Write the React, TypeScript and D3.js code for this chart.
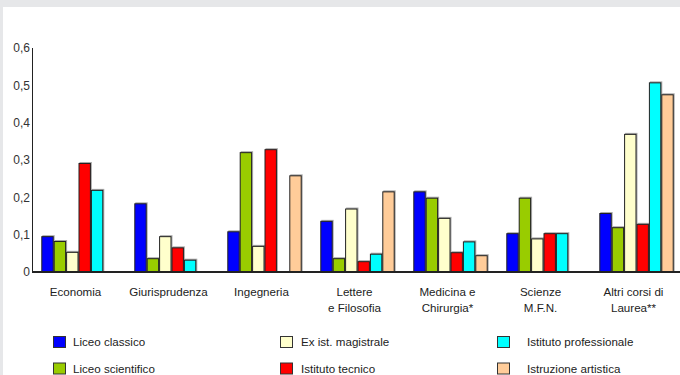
import React from "react";
import * as d3 from "d3";

const categories: string[][] = [
  ["Economia"],
  ["Giurisprudenza"],
  ["Ingegneria"],
  ["Lettere", "e Filosofia"],
  ["Medicina e", "Chirurgia*"],
  ["Scienze", "M.F.N."],
  ["Altri corsi di", "Laurea**"],
];
const seriesNames = [
  "Liceo classico",
  "Liceo scientifico",
  "Ex ist. magistrale",
  "Istituto tecnico",
  "Istituto professionale",
  "Istruzione artistica",
];
const seriesColors = ["#0000ff", "#99cc00", "#ffffcc", "#ff0000", "#00ffff", "#ffcc99"];
// values per series, per category
const liceoClassico = [0.096, 0.184, 0.109, 0.137, 0.216, 0.104, 0.158];
const liceoScientifico = [0.083, 0.037, 0.321, 0.037, 0.199, 0.199, 0.12];
const exMagistrale = [0.054, 0.096, 0.07, 0.17, 0.145, 0.09, 0.37];
const istTecnico = [0.292, 0.066, 0.329, 0.029, 0.053, 0.104, 0.129];
const istProfessionale = [0.22, 0.033, 0, 0.049, 0.082, 0.104, 0.508];
const istrArtistica = [0, 0, 0.259, 0.216, 0.045, 0, 0.476];
const seriesValues = [liceoClassico, liceoScientifico, exMagistrale, istTecnico, istProfessionale, istrArtistica];
const yTicks = [0, 0.1, 0.2, 0.3, 0.4, 0.5, 0.6];

const W = 680;
const H = 375;
const FONT = "'Liberation Sans', Arial, sans-serif";

export default function App() {
  const catKeys = categories.map((c) => c.join(" "));
  const x0 = d3.scaleBand<string>().domain(catKeys).range([32, 683]).paddingInner(0.2).paddingOuter(0.1);
  const x1 = d3.scaleBand<string>().domain(seriesNames).range([0, x0.bandwidth()]).padding(0);
  const y = d3.scaleLinear().domain([0, 0.6]).range([272, 48]);
  const fmt = (v: number) => (v === 0 ? "0" : d3.format(".1f")(v).replace(".", ","));

  const legendCols = [
    { sq: 53, tx: 73 },
    { sq: 280, tx: 301 },
    { sq: 497, tx: 527 },
  ];
  const legendRows = [336, 362.5];

  return (
    <svg width={W} height={H} style={{ position: "absolute", left: 0, top: 0 }} fontFamily={FONT}>
      <rect x={0} y={0} width={W} height={H} fill="#e6e7e9" />
      <rect x={3} y={7} width={W - 3} height={H - 7} fill="#ffffff" />

      {/* y axis */}
      <line x1={32.5} x2={32.5} y1={y(0.6)} y2={y(0)} stroke="#222" strokeWidth={1} />
      {yTicks.map((t) => (
        <text key={t} x={30} y={y(t)} dy="0.35em" textAnchor="end" fontSize={12} fill="#333">
          {fmt(t)}
        </text>
      ))}

      {/* bars */}
      {catKeys.map((ck, ci) => (
        <g key={ck} transform={`translate(${x0(ck)},0)`}>
          {seriesNames.map((s, si) => {
            const v = seriesValues[si][ci];
            if (!v) return null;
            const bx = x1(s)!;
            const by = y(v);
            const bh = y(0) - by;
            return (
              <g key={s}>
                <rect x={bx + 1} y={by - 1} width={x1.bandwidth()} height={bh} fill="#aaaaaa" />
                <rect
                  x={bx + 0.5}
                  y={by + 0.5}
                  width={x1.bandwidth() - 1}
                  height={bh - 0.5}
                  fill={seriesColors[si]}
                  stroke="#222"
                  strokeWidth={1}
                />
              </g>
            );
          })}
        </g>
      ))}

      {/* baseline */}
      <line x1={32} x2={W} y1={y(0)} y2={y(0)} stroke="#222" strokeWidth={2.2} />

      {/* category labels */}
      {categories.map((lines, ci) => {
        const cx = x0(catKeys[ci])! + x0.bandwidth() / 2 - 3;
        return (
          <text key={catKeys[ci]} x={cx} textAnchor="middle" fontSize={11.6} fill="#222">
            {lines.map((l, li) => (
              <tspan key={li} x={cx} y={296 + li * 16}>
                {l}
              </tspan>
            ))}
          </text>
        );
      })}

      {/* legend */}
      {seriesNames.map((s, si) => {
        const col = legendCols[Math.floor(si / 2)];
        const ry = legendRows[si % 2];
        return (
          <g key={s}>
            <rect x={col.sq + 0.5} y={ry + 0.5} width={12} height={11} fill={seriesColors[si]} stroke="#333" strokeWidth={1} />
            <text x={col.tx} y={ry + 6} dy="0.35em" fontSize={11.6} fill="#222">
              {s}
            </text>
          </g>
        );
      })}
    </svg>
  );
}
